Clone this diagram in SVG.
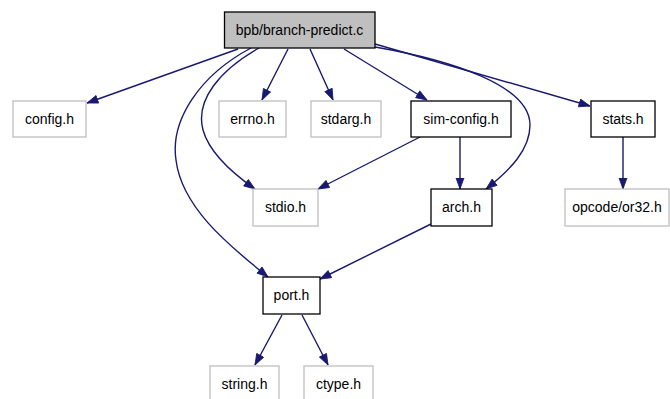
<svg xmlns="http://www.w3.org/2000/svg" width="670" height="399" viewBox="0 0 670 399">
<style>
text{font-family:"Liberation Sans",Arial,Helvetica,sans-serif;font-size:14px;fill:#000;text-anchor:middle}
.main{fill:#bfbfbf;stroke:#000;stroke-width:1.3}
.doc{fill:#fff;stroke:#000;stroke-width:1.3}
.ext{fill:#fff;stroke:#bfbfbf;stroke-width:1.3}
.e{fill:none;stroke:#191970;stroke-width:1.4}
</style>
<defs>
<marker id="ah" markerUnits="userSpaceOnUse" markerWidth="13" markerHeight="10" refX="11.5" refY="4.5" orient="auto">
<path d="M0.5,0.5 L11.5,4.5 L0.5,8.5 z" fill="#191970" stroke="#191970" stroke-width="0.8"/>
</marker>
</defs>
<g id="connectors">
<path class="e" marker-end="url(#ah)" d="M238,49 L87,103"/>
<path class="e" marker-end="url(#ah)" d="M288,49 L262,100"/>
<path class="e" marker-end="url(#ah)" d="M310,49 L333,100"/>
<path class="e" marker-end="url(#ah)" d="M344,49 L427,100"/>
<path class="e" marker-end="url(#ah)" d="M375,44 L590,106"/>
<path class="e" marker-end="url(#ah)" d="M375,47 C450,60 530,85 530,125 C530,150 510,170 486,189"/>
<path class="e" marker-end="url(#ah)" d="M259,48 C220,70 195,100 203,130 C210,155 235,175 255,189"/>
<path class="e" marker-end="url(#ah)" d="M251,48 C200,75 170,120 176,160 C182,210 235,250 268,277"/>
<path class="e" marker-end="url(#ah)" d="M420,137 L318,189"/>
<path class="e" marker-end="url(#ah)" d="M460,137 L460,189"/>
<path class="e" marker-end="url(#ah)" d="M623,137 L623,189"/>
<path class="e" marker-end="url(#ah)" d="M431,224 L320,279"/>
<path class="e" marker-end="url(#ah)" d="M282,315 L255,365"/>
<path class="e" marker-end="url(#ah)" d="M302,315 L328,365"/>
</g>
<g id="n-main"><rect class="main" x="224.5" y="12" width="150.5" height="36"/><text x="299.5" y="35">bpb/branch-predict.c</text></g>
<g id="n-config"><rect class="ext" x="13" y="101" width="73" height="36"/><text x="49.5" y="124">config.h</text></g>
<g id="n-errno"><rect class="ext" x="219" y="101" width="67" height="36"/><text x="252.5" y="124">errno.h</text></g>
<g id="n-stdarg"><rect class="ext" x="311" y="101" width="70" height="36"/><text x="346" y="124">stdarg.h</text></g>
<g id="n-simconfig"><rect class="doc" x="411" y="101" width="100" height="36"/><text x="461" y="124">sim-config.h</text></g>
<g id="n-stats"><rect class="doc" x="591" y="101" width="64" height="36"/><text x="623" y="124">stats.h</text></g>
<g id="n-stdio"><rect class="ext" x="253" y="189" width="65" height="37"/><text x="285.5" y="212">stdio.h</text></g>
<g id="n-arch"><rect class="doc" x="431" y="189" width="61" height="37"/><text x="461.5" y="212">arch.h</text></g>
<g id="n-opcode"><rect class="ext" x="565" y="189" width="104" height="37"/><text x="617" y="212">opcode/or32.h</text></g>
<g id="n-port"><rect class="doc" x="263" y="277" width="57" height="37"/><text x="291.5" y="300">port.h</text></g>
<g id="n-string"><rect class="ext" x="210" y="366" width="69" height="37"/><text x="244.5" y="389">string.h</text></g>
<g id="n-ctype"><rect class="ext" x="304" y="366" width="69" height="37"/><text x="338.5" y="389">ctype.h</text></g>
</svg>
